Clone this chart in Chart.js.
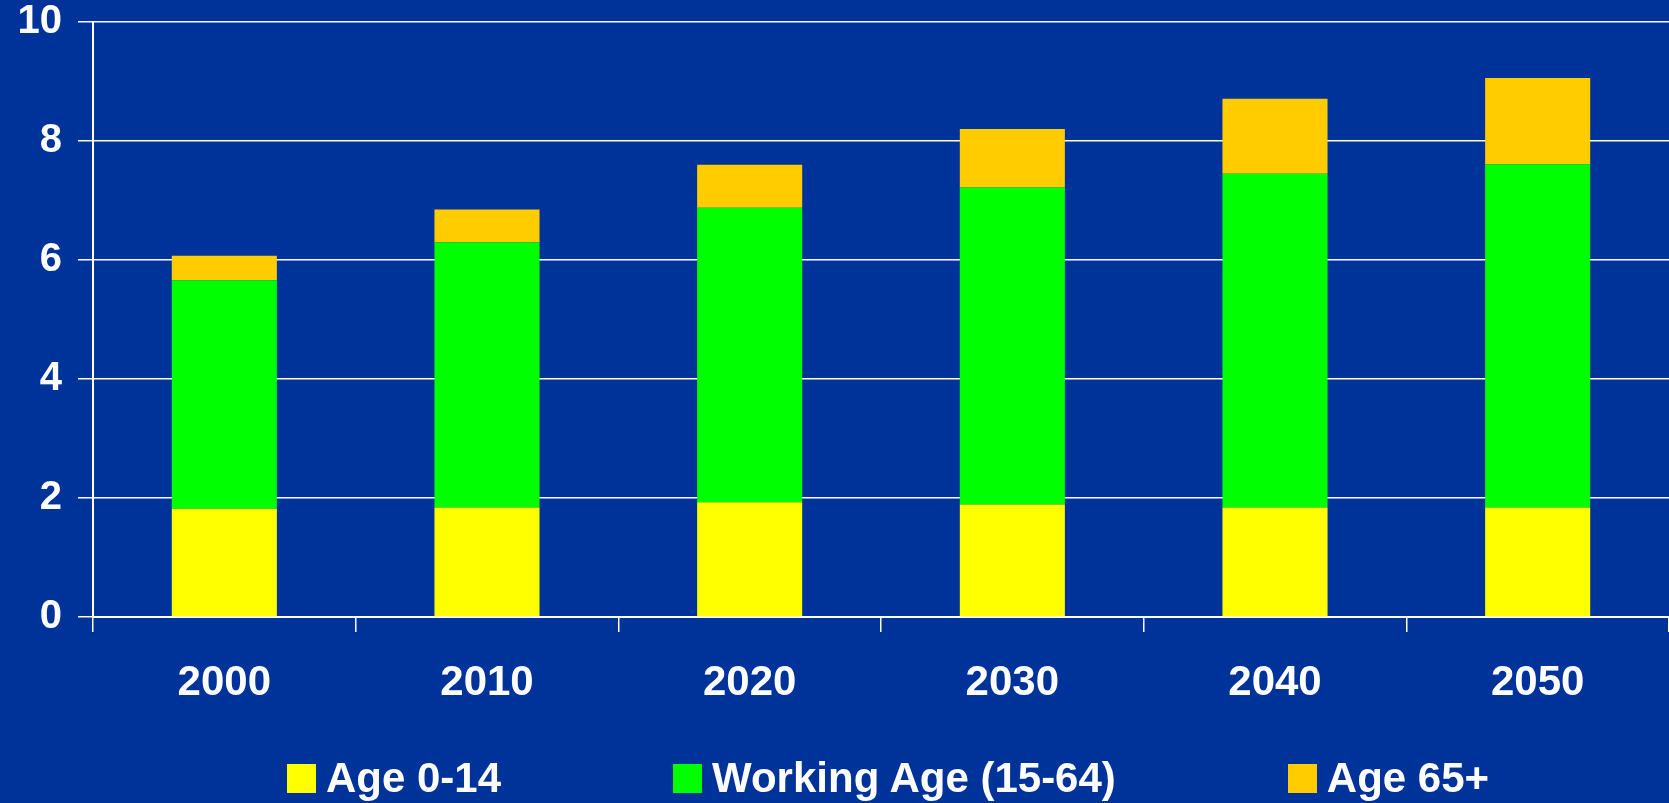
<!DOCTYPE html>
<html>
<head>
<meta charset="utf-8">
<script src="https://cdn.jsdelivr.net/npm/chart.js@4"></script>
<style>
    html, body { margin: 0; padding: 0; background: #003399; }
    #wrap { position: relative; width: 1669px; height: 803px; overflow: hidden; }
    #legend {
        position: absolute; left: 287px; top: 757px;
        display: flex; align-items: center; gap: 172px;
        font: bold 42px "Liberation Sans", Arial, sans-serif; line-height: 42px; color: #fff;
        white-space: nowrap;
    }
    #legend .item { display: flex; align-items: center; }
    #legend .box { width: 29px; height: 29px; margin-right: 10px; }
</style>
</head>
<body>
<div id="wrap">
    <canvas id="popChart" width="1669" height="803"></canvas>
    <div id="legend"></div>
</div>
<script>
const years = ["2000", "2010", "2020", "2030", "2040", "2050"];
const age0to14 = [1.82, 1.84, 1.93, 1.89, 1.84, 1.84];
const workingAge = [3.84, 4.46, 4.95, 5.33, 5.61, 5.77];
const age65plus = [0.41, 0.55, 0.72, 0.98, 1.26, 1.45];
const yTicks = [0, 2, 4, 6, 8, 10];

const seriesNames = ["Age 0-14", "Working Age (15-64)", "Age 65+"];
const seriesColors = ["#ffff00", "#00ff00", "#ffcc00"];

const fontFamily = '"Liberation Sans", Arial, sans-serif';

const ctx = document.getElementById("popChart").getContext("2d");
const myChart = new Chart(ctx, {
    type: "bar",
    data: {
        labels: years,
        datasets: [age0to14, workingAge, age65plus].map((vals, i) => ({
            label: seriesNames[i],
            data: vals,
            backgroundColor: seriesColors[i],
            borderWidth: 0,
            categoryPercentage: 1,
            barPercentage: 0.4
        }))
    },
    options: {
        responsive: false,
        animation: false,
        layout: { autoPadding: false, padding: { top: 22, right: 0, left: 0, bottom: 95 } },
        plugins: { legend: { display: false }, tooltip: { enabled: false } },
        scales: {
            x: {
                stacked: true,
                afterFit: (scale) => { scale.height = 91; scale.paddingLeft = 0; scale.paddingRight = 0; },
                grid: { drawOnChartArea: false, drawTicks: true, tickLength: 15, color: "#fff", lineWidth: 1.5, offset: true },
                border: { color: "#fff", width: 2 },
                ticks: { color: "#fff", padding: 26, font: { family: fontFamily, size: 42, weight: "bold" } }
            },
            y: {
                stacked: true,
                min: 0,
                max: 10,
                afterBuildTicks: (scale) => { scale.ticks = yTicks.map(v => ({ value: v })); },
                afterFit: (scale) => { scale.width = 93; scale.paddingTop = 0; scale.paddingBottom = 0; },
                grid: { color: "#fff", lineWidth: 1.5, tickLength: 15 },
                border: { color: "#fff", width: 2 },
                ticks: { color: "#fff", padding: 16, font: { family: fontFamily, size: 40, weight: "bold", lineHeight: 1.1 } }
            }
        }
    }
});

document.getElementById("legend").innerHTML = seriesNames.map((name, i) => `
    <div class="item"><div class="box" style="background:${seriesColors[i]}"></div><span>${name}</span></div>`).join("");
</script>
</body>
</html>
